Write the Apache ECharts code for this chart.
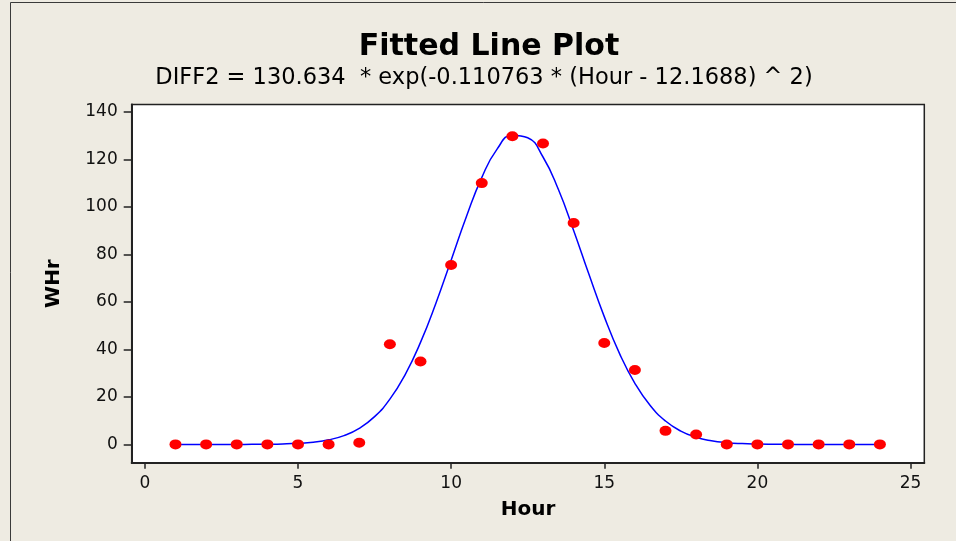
<!DOCTYPE html>
<html>
<head>
<meta charset="utf-8">
<title>Fitted Line Plot</title>
<script src="https://cdn.jsdelivr.net/npm/echarts@6/dist/echarts.min.js"></script>
<style>
    html, body { margin: 0; padding: 0; background: #EEEBE2; }
    #chart { width: 956px; height: 541px; }
</style>
</head>
<body>
<div id="chart"></div>
<script>
// observed points (Hour, WHr)
const hours = [1, 2, 3, 4, 5, 6, 7, 8, 9, 10, 11, 12, 13, 14, 15, 16, 17, 18, 19, 20, 21, 22, 23, 24]
const whr = [0, 0, 0, 0, 0, 0, 0.7, 42.2, 34.9, 75.5, 110, 129.7, 126.7, 93.2, 42.7, 31.3, 5.7, 4.2, 0, 0, 0, 0, 0, 0]

// fitted curve, every half hour
const fitHours = [1, 1.5, 2, 2.5, 3, 3.5, 4, 4.5, 5, 5.5, 6, 6.5, 7, 7.5, 8, 8.5, 9, 9.5, 10, 10.5, 11, 11.5, 12, 12.5,
    13, 13.5, 14, 14.5, 15, 15.5, 16, 16.5, 17, 17.5, 18, 18.5, 19, 19.5, 20, 20.5, 21, 21.5, 22, 22.5, 23, 23.5, 24]
const fitWhr = [0, 0, 0, 0, 0, 0.03, 0.08, 0.19, 0.44, 0.95, 1.93, 3.71, 6.77, 11.68, 19.06, 29.42, 42.95, 59.35, 77.58, 95.96,
    112.3, 124.3, 130.2, 129.1, 121.0, 107.4, 90.1, 71.6, 53.8, 38.2, 25.7, 16.35, 9.85, 5.61, 3.02, 1.54, 0.74, 0.34, 0.15,
    0.06, 0.02, 0, 0, 0, 0, 0, 0]

const xTicks = [0, 5, 10, 15, 20, 25]
const yTicks = [0, 20, 40, 60, 80, 100, 120, 140]

const font = 'DejaVu Sans, Verdana, sans-serif'

let chartDom = document.getElementById('chart')
let myChart = echarts.init(chartDom)
let option

let pointData = []
hours.forEach((h, i) => pointData.push([h, whr[i]]))
let fitData = []
fitHours.forEach((h, i) => fitData.push([h, fitWhr[i]]))

option = {
    backgroundColor: '#EEEBE2',
    animation: false,
    graphic: [
        {
            type: 'rect',
            shape: { x: 10.5, y: 2.5, width: 1200, height: 1200 },
            style: { fill: null, stroke: '#3a3a3a', lineWidth: 1 },
            silent: true
        }
    ],
    title: [
        {
            text: 'Fitted Line Plot',
            left: 489,
            textAlign: 'center',
            top: 32,
            padding: 0,
            textStyle: { fontFamily: font, fontSize: 30, fontWeight: 'bold', color: '#000' }
        },
        {
            text: 'DIFF2 = 130.634  * exp(-0.110763 * (Hour - 12.1688) ^ 2)',
            left: 484,
            textAlign: 'center',
            top: 67,
            padding: 0,
            textStyle: { fontFamily: font, fontSize: 22.5, fontWeight: 'normal', color: '#000' }
        }
    ],
    grid: {
        left: 131.7,
        right: 31.7,
        top: 104.5,
        bottom: 78.3,
        show: true,
        backgroundColor: '#fff',
        borderColor: '#222',
        borderWidth: 1.5
    },
    xAxis: {
        type: 'value',
        min: -0.43,
        max: 25.45,
        name: 'Hour',
        nameLocation: 'middle',
        nameGap: 37,
        nameTextStyle: { fontFamily: font, fontSize: 20, fontWeight: 'bold', color: '#000' },
        splitLine: { show: false },
        axisLine: { show: true, onZero: false, lineStyle: { color: '#222', width: 2 } },
        axisTick: { show: true, length: 6, customValues: xTicks, lineStyle: { color: '#222', width: 1.5 } },
        axisLabel: { customValues: xTicks, margin: 12, fontFamily: font, fontSize: 17, color: '#111' }
    },
    yAxis: {
        type: 'value',
        min: -7.7,
        max: 143.1,
        name: 'WHr',
        nameLocation: 'middle',
        nameGap: 68,
        nameTextStyle: { fontFamily: font, fontSize: 20, fontWeight: 'bold', color: '#000' },
        splitLine: { show: false },
        axisLine: { show: true, onZero: false, lineStyle: { color: '#222', width: 2 } },
        axisTick: { show: true, length: 8, customValues: yTicks, lineStyle: { color: '#222', width: 1.5 } },
        axisLabel: { customValues: yTicks, margin: 14, fontFamily: font, fontSize: 17, color: '#111' }
    },
    series: [
        {
            type: 'line',
            data: fitData,
            smooth: true,
            showSymbol: false,
            lineStyle: { color: '#0000FF', width: 1.5 },
            z: 2
        },
        {
            type: 'scatter',
            data: pointData,
            symbol: 'circle',
            symbolSize: [12, 10],
            itemStyle: { color: '#FF0000', opacity: 1 },
            z: 3
        }
    ]
}

option && myChart.setOption(option)
</script>
</body>
</html>
